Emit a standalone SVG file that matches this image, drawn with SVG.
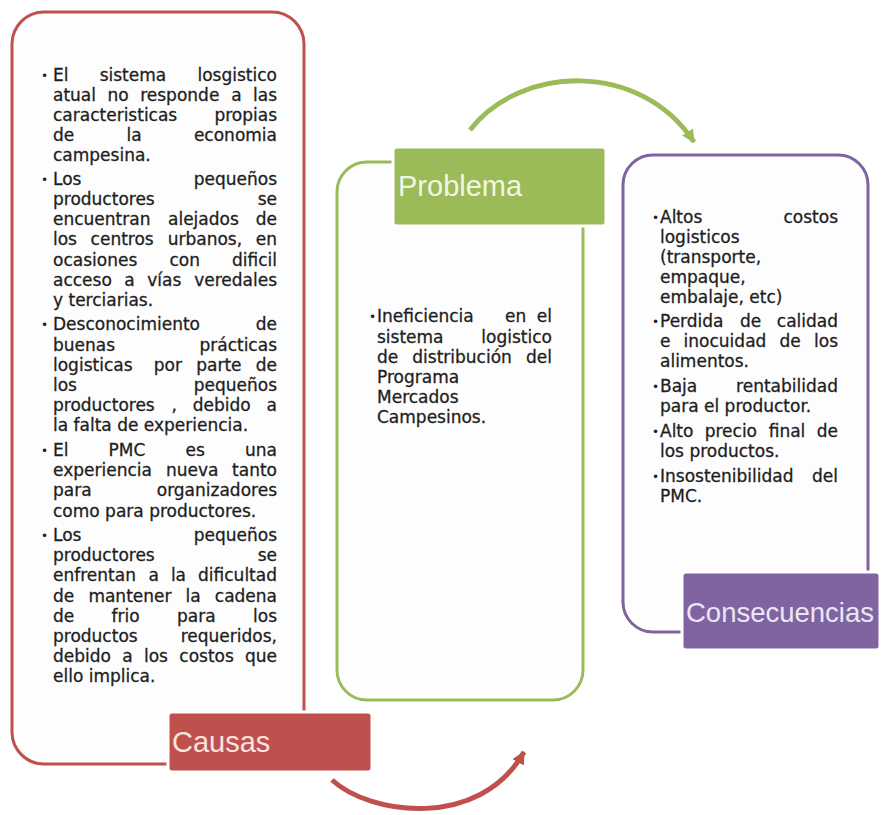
<svg xmlns="http://www.w3.org/2000/svg" width="882" height="815" viewBox="0 0 882 815">
  <defs>
    <style>
      .panel { fill: #fdfdfd; stroke-width: 3; }
      .tag { stroke: #ffffff; stroke-width: 3; }
      .tagtxt { font-family: "Liberation Sans", Arial, sans-serif; font-size: 29px; }
      .b { font-family: "DejaVu Sans", "Liberation Sans", sans-serif; font-size: 17px; fill: #1e1e1e; stroke: #1e1e1e; stroke-width: 0.3; }
      .bu { font-family: "DejaVu Sans", sans-serif; font-size: 12px; fill: #1e1e1e; }
      .e { text-anchor: end; }
      .arc { fill: none; stroke-width: 5; stroke-linecap: butt; }
    </style>
    <marker id="headGreen" markerUnits="userSpaceOnUse" viewBox="0 0 12 12" refX="11" refY="6" markerWidth="13" markerHeight="13" orient="auto">
      <path d="M0,0 L12,6 L0,12 Z" fill="#9bbb59"/>
    </marker>
    <marker id="headRed" markerUnits="userSpaceOnUse" viewBox="0 0 12 12" refX="11" refY="6" markerWidth="13" markerHeight="13" orient="auto">
      <path d="M0,0 L12,6 L0,12 Z" fill="#c0504d"/>
    </marker>
  </defs>

  <rect width="882" height="815" fill="#ffffff"/>

  <!-- cycle arrows between the three blocks -->
  <g id="connectors">
    <path class="arc" d="M470,130 C520,65 640,60 694,142" stroke="#9bbb59" marker-end="url(#headGreen)"/>
    <path class="arc" d="M332,780 C370,815 480,830 524,752" stroke="#c0504d" marker-end="url(#headRed)"/>
  </g>

  <!-- Causas -->
  <g id="causas">
    <rect class="panel" x="12" y="12" width="292" height="752" rx="32" stroke="#c0504d"/>
    <g>
      <text class="bu" x="41" y="80">•</text>
      <text class="b" y="81"><tspan x="53">El</tspan><tspan x="99.7">sistema</tspan><tspan x="277" class="e">losgistico</tspan></text>
      <text class="b" y="101"><tspan x="53">atual</tspan><tspan x="107.5">no</tspan><tspan x="140.2">responde</tspan><tspan x="231.2">a</tspan><tspan x="277" class="e">las</tspan></text>
      <text class="b" y="121"><tspan x="53">caracteristicas</tspan><tspan x="277" class="e">propias</tspan></text>
      <text class="b" y="141"><tspan x="53">de</tspan><tspan x="126.6">la</tspan><tspan x="277" class="e">economia</tspan></text>
      <text class="b" x="53" y="161">campesina.</text>

      <text class="bu" x="41" y="184">•</text>
      <text class="b" y="185"><tspan x="53">Los</tspan><tspan x="277" class="e">pequeños</tspan></text>
      <text class="b" y="205"><tspan x="53">productores</tspan><tspan x="277" class="e">se</tspan></text>
      <text class="b" y="225"><tspan x="53">encuentran</tspan><tspan x="168">alejados</tspan><tspan x="277" class="e">de</tspan></text>
      <text class="b" y="245"><tspan x="53">los</tspan><tspan x="90.6">centros</tspan><tspan x="167.7">urbanos,</tspan><tspan x="277" class="e">en</tspan></text>
      <text class="b" y="266"><tspan x="53">ocasiones</tspan><tspan x="169.4">con</tspan><tspan x="277" class="e">dificil</tspan></text>
      <text class="b" y="286"><tspan x="53">acceso</tspan><tspan x="124.3">a</tspan><tspan x="147.2">vías</tspan><tspan x="277" class="e">veredales</tspan></text>
      <text class="b" x="53" y="306">y terciarias.</text>

      <text class="bu" x="41" y="329">•</text>
      <text class="b" y="330"><tspan x="53">Desconocimiento</tspan><tspan x="277" class="e">de</tspan></text>
      <text class="b" y="351"><tspan x="53">buenas</tspan><tspan x="277" class="e">prácticas</tspan></text>
      <text class="b" y="371"><tspan x="53">logisticas</tspan><tspan x="153.8">por</tspan><tspan x="196.2">parte</tspan><tspan x="277" class="e">de</tspan></text>
      <text class="b" y="391"><tspan x="53">los</tspan><tspan x="277" class="e">pequeños</tspan></text>
      <text class="b" y="411"><tspan x="53">productores</tspan><tspan x="171.4">,</tspan><tspan x="192.7">debido</tspan><tspan x="277" class="e">a</tspan></text>
      <text class="b" x="53" y="431">la falta de experiencia.</text>

      <text class="bu" x="41" y="455">•</text>
      <text class="b" y="456"><tspan x="53">El</tspan><tspan x="108.6">PMC</tspan><tspan x="185.5">es</tspan><tspan x="277" class="e">una</tspan></text>
      <text class="b" y="476"><tspan x="53">experiencia</tspan><tspan x="165.9">nueva</tspan><tspan x="277" class="e">tanto</tspan></text>
      <text class="b" y="496"><tspan x="53">para</tspan><tspan x="277" class="e">organizadores</tspan></text>
      <text class="b" x="53" y="517">como para productores.</text>

      <text class="bu" x="41" y="540">•</text>
      <text class="b" y="541"><tspan x="53">Los</tspan><tspan x="277" class="e">pequeños</tspan></text>
      <text class="b" y="561"><tspan x="53">productores</tspan><tspan x="277" class="e">se</tspan></text>
      <text class="b" y="581"><tspan x="53">enfrentan</tspan><tspan x="148.4">a</tspan><tspan x="170.9">la</tspan><tspan x="277" class="e">dificultad</tspan></text>
      <text class="b" y="602"><tspan x="53">de</tspan><tspan x="88.4">mantener</tspan><tspan x="185.6">la</tspan><tspan x="277" class="e">cadena</tspan></text>
      <text class="b" y="622"><tspan x="53">de</tspan><tspan x="111.6">frio</tspan><tspan x="177">para</tspan><tspan x="277" class="e">los</tspan></text>
      <text class="b" y="642"><tspan x="53">productos</tspan><tspan x="277" class="e">requeridos,</tspan></text>
      <text class="b" y="662"><tspan x="53">debido</tspan><tspan x="122.3">a</tspan><tspan x="144">los</tspan><tspan x="179.3">costos</tspan><tspan x="277" class="e">que</tspan></text>
      <text class="b" x="53" y="682">ello implica.</text>
    </g>
    <rect class="tag" x="168" y="712" width="204" height="60" rx="4" fill="#c0504d"/>
    <text class="tagtxt" x="172" y="752" fill="#fbe2de">Causas</text>
  </g>

  <!-- Problema -->
  <g id="problema">
    <rect class="panel" x="337" y="162" width="246" height="538" rx="30" stroke="#9bbb59"/>
    <g>
      <text class="bu" x="369" y="321">•</text>
      <text class="b" y="322"><tspan x="377">Ineficiencia</tspan><tspan x="505">en</tspan><tspan x="552" class="e">el</tspan></text>
      <text class="b" y="343"><tspan x="377">sistema</tspan><tspan x="552" class="e">logistico</tspan></text>
      <text class="b" y="363"><tspan x="377">de</tspan><tspan x="412.3">distribución</tspan><tspan x="552" class="e">del</tspan></text>
      <text class="b" x="377" y="383">Programa</text>
      <text class="b" x="377" y="403">Mercados</text>
      <text class="b" x="377" y="423">Campesinos.</text>
    </g>
    <rect class="tag" x="393" y="147" width="213" height="79" rx="4" fill="#9bbb59"/>
    <text class="tagtxt" x="398" y="196" fill="#f1f6e2">Problema</text>
  </g>

  <!-- Consecuencias -->
  <g id="consecuencias">
    <rect class="panel" x="623" y="155" width="245" height="477" rx="30" stroke="#8064a2"/>
    <g>
      <text class="bu" x="652" y="222">•</text>
      <text class="b" y="223"><tspan x="660">Altos</tspan><tspan x="838" class="e">costos</tspan></text>
      <text class="b" x="660" y="243">logisticos</text>
      <text class="b" x="660" y="263">(transporte,</text>
      <text class="b" x="660" y="283">empaque,</text>
      <text class="b" x="660" y="303">embalaje, etc)</text>

      <text class="bu" x="652" y="326">•</text>
      <text class="b" y="327"><tspan x="660">Perdida</tspan><tspan x="739.9">de</tspan><tspan x="838" class="e">calidad</tspan></text>
      <text class="b" y="347"><tspan x="660">e</tspan><tspan x="683.6">inocuidad</tspan><tspan x="779.5">de</tspan><tspan x="838" class="e">los</tspan></text>
      <text class="b" x="660" y="367">alimentos.</text>

      <text class="bu" x="652" y="391">•</text>
      <text class="b" y="392"><tspan x="660">Baja</tspan><tspan x="838" class="e">rentabilidad</tspan></text>
      <text class="b" x="660" y="412">para el productor.</text>

      <text class="bu" x="652" y="436">•</text>
      <text class="b" y="437"><tspan x="660">Alto</tspan><tspan x="704.7">precio</tspan><tspan x="768.7">final</tspan><tspan x="838" class="e">de</tspan></text>
      <text class="b" x="660" y="457">los productos.</text>

      <text class="bu" x="652" y="481">•</text>
      <text class="b" y="482"><tspan x="660">Insostenibilidad</tspan><tspan x="838" class="e">del</tspan></text>
      <text class="b" x="660" y="502">PMC.</text>
    </g>
    <rect class="tag" x="682" y="572" width="198" height="78" rx="4" fill="#8064a2"/>
    <text class="tagtxt" x="686" y="622" fill="#ece5f5" style="font-size:27.5px">Consecuencias</text>
  </g>
</svg>
